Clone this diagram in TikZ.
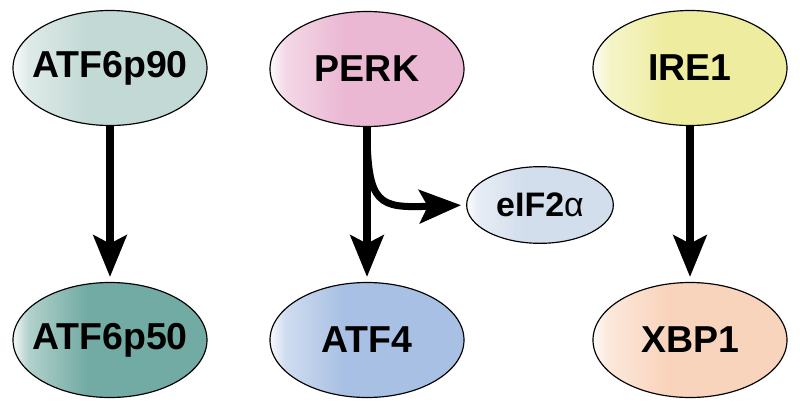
\documentclass[tikz,border=0pt]{standalone}
\usepackage{fontspec}
\setmainfont{Liberation Sans}
\usetikzlibrary{shapes.geometric,arrows.meta}
\definecolor{pninety}{HTML}{C3D9D5}
\definecolor{pfifty}{HTML}{72ABA3}
\definecolor{perkpink}{HTML}{EAB8D3}
\definecolor{atfblue}{HTML}{A8C0E3}
\definecolor{ireyellow}{HTML}{EEEC9F}
\definecolor{xbppeach}{HTML}{F9D4BD}
\definecolor{eifblue}{HTML}{D3DEEC}
\colorlet{protcol}{white}
\pgfdeclarehorizontalshading[protcol]{prothl}{100bp}{color(0bp)=(white!85!protcol); color(25.5bp)=(white!85!protcol); color(29bp)=(white!45!protcol); color(44bp)=(protcol); color(100bp)=(protcol)}
\begin{document}
\begin{tikzpicture}[x=0.03cm,y=-0.03cm,>={Stealth[length=1.25cm,width=1cm,inset=0.25cm]},
	prot/.style={ellipse,draw,line width=1pt,/utils/exec={\colorlet{protcol}{#1}},shading=prothl,shade,
		minimum width=5.82cm,minimum height=3.45cm,inner xsep=-0.5cm,inner ysep=0pt,
		font=\fontsize{32}{36}\selectfont\bfseries},
	smallprot/.style={prot=#1,minimum width=4.4cm,minimum height=2.3cm,font=\fontsize{29}{32}\selectfont\bfseries},
	link/.style={->,line width=6pt,shorten >=0.15cm}]
			\useasboundingbox (0,0) rectangle (800,409);
			% top row
			\node[prot=pninety] (p90) at (110,68) {ATF6p90};
			\node[prot=perkpink] (perk) at (367,69) {PERK};
			\node[prot=ireyellow] (ire) at (690,68) {IRE1};
			% bottom row
			\node[prot=pfifty] (p50) at (110,340) {ATF6p50};
			\node[prot=atfblue] (atf) at (367,340) {ATF4};
			\node[prot=xbppeach] (xbp) at (690,340) {XBP1};
			\node[smallprot=eifblue] (eif) at (540,205) {eIF2{\mdseries α}};
			% arrows
			\draw[link] (p90) -- (p50);
			\draw[link] (perk) -- (atf);
			\draw[link] (ire) -- (xbp);
			\draw[link] (perk.south) .. controls +(0,79) and +(-87,3) .. (eif.west);
		\end{tikzpicture}
\end{document}
